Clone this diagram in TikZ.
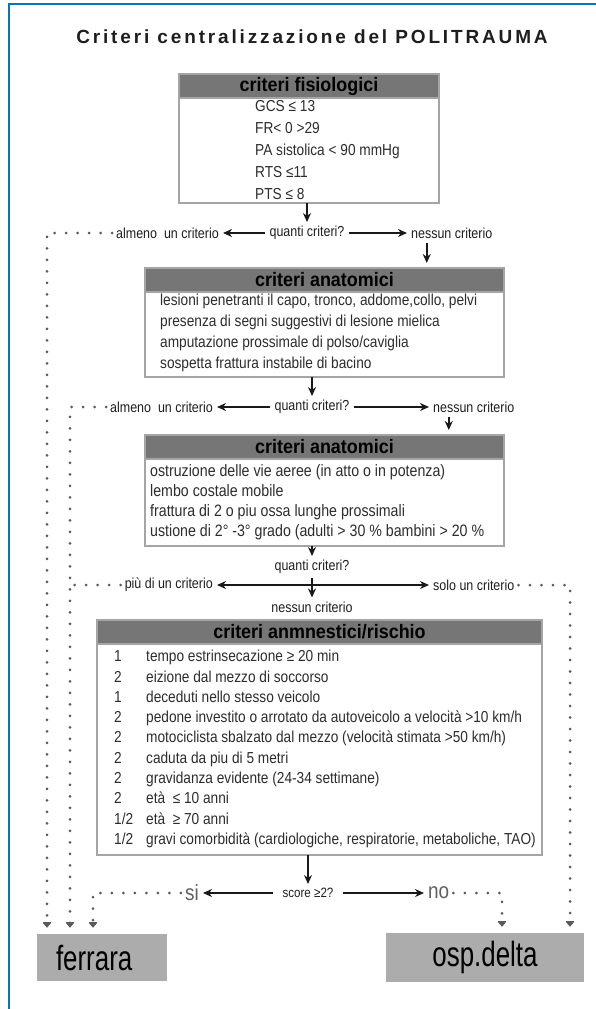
\documentclass[tikz,border=0pt]{standalone}
\usepackage{fontspec}
\setmainfont{Liberation Sans}[FakeStretch=0.86]
\newfontfamily\hdrfont{Liberation Sans}[FakeStretch=0.92]
\newfontfamily\titlefont{Liberation Sans}[LetterSpace=15]
\newfontfamily\destfont{Liberation Sans}[FakeStretch=0.74]
\usetikzlibrary{arrows.meta, positioning, calc}
\definecolor{framblue}{RGB}{10,115,185}
\definecolor{hdrgray}{RGB}{118,118,118}
\definecolor{boxgray}{RGB}{165,165,165}
\definecolor{txtgray}{RGB}{45,45,45}
\definecolor{lblgray}{RGB}{30,30,30}
\definecolor{titledark}{RGB}{30,30,30}
\definecolor{sinogray}{RGB}{95,95,95}
\definecolor{dotgray}{RGB}{90,90,90}
\definecolor{destgray}{RGB}{172,172,172}
\definecolor{arrowblk}{RGB}{25,25,25}
\newcommand{\scorecol}[1]{\makebox[32pt][l]{#1}}
\tikzset{
  hdr/.style={rectangle, draw=boxgray, fill=hdrgray, line width=1.2pt,
    outer sep=0pt, inner sep=0pt, minimum height=24pt, anchor=north west,
    font=\hdrfont\bfseries\fontsize{19.5}{19.5}\selectfont, text=black},
  bodybox/.style={rectangle, draw=boxgray, fill=white, line width=1.2pt,
    outer sep=0pt, inner sep=0pt},
  bodytxt/.style={align=left, inner sep=0pt, text=txtgray,
    font=\fontsize{15.9}{21}\selectfont},
  lbl/.style={inner sep=4pt, text=lblgray, font=\fontsize{14.5}{15}\selectfont},
  sino/.style={inner sep=4pt, text=sinogray, font=\fontsize{22}{22}\selectfont},
  dest/.style={rectangle, fill=destgray, inner sep=0pt,
    font=\destfont\fontsize{35}{35}\selectfont, text=black},
  arrow/.style={-{Stealth[length=9pt,width=8pt]}, line width=1.6pt, color=arrowblk},
  dblarrow/.style={arrow, {Stealth[length=9pt,width=8pt]}-{Stealth[length=9pt,width=8pt]}},
  dots/.style={line width=3pt, line cap=round, dash pattern=on 0pt off 11.5pt, color=dotgray},
  dotarrow/.style={dots, -{Bar[width=8pt,line width=1.2pt] Triangle[length=5pt,width=8pt]}, shorten >=6pt}
}
\begin{document}
\begin{tikzpicture}[x=1pt, y=-1pt]
  \useasboundingbox (0,0) rectangle (596,1009);
  % Frame
  \draw[framblue, line width=1.5pt] (9,1009) -- (9,4) -- (596,4);
  % Title
  \node[font=\titlefont\bfseries\fontsize{19}{19}\selectfont, text=titledark] (title) at (312,37) {Criteri centralizzazione del POLITRAUMA};

  % Physiological criteria
  \node[hdr, minimum width=260pt] (fishdr) at (179,74) {criteri fisiologici};
  \node[bodybox, minimum width=260pt, minimum height=105pt, below=0pt of fishdr] (fisbox) {};
  \node[bodytxt, font=\fontsize{15.9}{22}\selectfont, below right=2pt and 76pt of fishdr.south west] (fistxt) {GCS ≤ 13\\FR< 0 >29\\PA sistolica < 90 mmHg\\RTS ≤11\\PTS ≤ 8};

  % Row 1
  \node[lbl] (q1) at (307,233) {quanti criteri?};
  \node[lbl, anchor=east] (a1) at (223,233) {almeno\ \ un criterio};
  \node[lbl, anchor=west] (n1) at (407,233) {nessun criterio};
  \draw[arrow] (fisbox.south -| q1.north) -- (q1.north);
  \draw[arrow] (q1) -- (a1);
  \draw[arrow] (q1) -- (n1);

  % Anatomical criteria
  \node[hdr, minimum width=359pt] (anhdr) at (145,268) {criteri anatomici};
  \node[bodybox, minimum width=359pt, minimum height=85pt, below=0pt of anhdr] (anbox) {};
  \node[bodytxt, below right=2pt and 15pt of anhdr.south west] (antxt) {lesioni penetranti il capo, tronco, addome,collo, pelvi\\presenza di segni suggestivi di lesione mielica\\amputazione prossimale di polso/caviglia\\sospetta frattura instabile di bacino};
  \draw[arrow, shorten >=5pt] ([xshift=-25pt]n1.south) -- ([xshift=-25pt]n1.south |- anhdr.north);

  % Row 2
  \node[lbl] (q2) at (312,407) {quanti criteri?};
  \node[lbl, anchor=east] (a2) at (217,407) {almeno\ \ un criterio};
  \node[lbl, anchor=west] (n2) at (429,407) {nessun criterio};
  \draw[arrow] (anbox.south -| q2.north) -- (q2.north);
  \draw[arrow] (q2) -- (a2);
  \draw[arrow] (q2) -- (n2);

  % Second anatomical criteria
  \node[hdr, minimum width=359pt] (an2hdr) at (145,435) {criteri anatomici};
  \node[bodybox, minimum width=359pt, minimum height=87pt, below=0pt of an2hdr] (an2box) {};
  \node[bodytxt, font=\fontsize{16.5}{20}\selectfont, below right=5pt and 5pt of an2hdr.south west] (an2txt) {ostruzione delle vie aeree (in atto o in potenza)\\lembo costale mobile\\frattura di 2 o piu ossa lunghe prossimali\\ustione di 2° -3° grado (adulti > 30 \% bambini > 20 \%};
  \draw[arrow, shorten >=5pt] ([xshift=-25pt]n2.south) -- ([xshift=-25pt]n2.south |- an2hdr.north);

  % Row 3
  \node[lbl] (q3) at (312,567) {quanti criteri?};
  \node[lbl, anchor=east] (p3) at (217,585) {più di un criterio};
  \node[lbl, anchor=west] (s3) at (429,585) {solo un criterio};
  \node[lbl] (n3) at (312,607) {nessun criterio};
  \draw[arrow] (an2box.south -| q3.north) -- (q3.north);
  \draw[dblarrow] (p3) -- (s3);
  \draw[arrow] (q3) -- (n3);

  % Anamnestic / risk criteria
  \node[hdr, minimum width=445pt] (anmhdr) at (97,620) {criteri anmnestici/rischio};
  \node[bodybox, minimum width=445pt, minimum height=211pt, below=0pt of anmhdr] (anmbox) {};
  \node[bodytxt, font=\fontsize{15.9}{20.3}\selectfont, below right=6pt and 17pt of anmhdr.south west] (anmtxt) {%
    \scorecol{1}tempo estrinsecazione ≥ 20 min\\
    \scorecol{2}eizione dal mezzo di soccorso\\
    \scorecol{1}deceduti nello stesso veicolo\\
    \scorecol{2}pedone investito o arrotato da autoveicolo a velocità >10 km/h\\
    \scorecol{2}motociclista sbalzato dal mezzo (velocità stimata >50 km/h)\\
    \scorecol{2}caduta da piu di 5 metri\\
    \scorecol{2}gravidanza evidente (24-34 settimane)\\
    \scorecol{2}età\ \ ≤ 10 anni\\
    \scorecol{1/2}età\ \ ≥ 70 anni\\
    \scorecol{1/2}gravi comorbidità (cardiologiche, respiratorie, metaboliche, TAO)};

  % Row 4
  \node[lbl, font=\fontsize{13.5}{14}\selectfont, inner xsep=9pt] (sc4) at (308,893) {score ≥2?};
  \node[sino, anchor=east] (si4) at (203,893) {si};
  \node[sino, anchor=west] (no4) at (424,893) {no};
  \draw[arrow] (anmbox.south -| sc4.north) -- (sc4.north);
  \draw[arrow] (sc4) -- (si4);
  \draw[arrow] (sc4) -- (no4);

  % Destinations
  \node[dest, minimum width=130pt, minimum height=47pt, text width=92pt, inner xsep=19pt, align=left] (ferrara) at (102,957.5) {ferrara};
  \node[dest, minimum width=198pt, minimum height=49pt] (ospdelta) at (485,957.5) {osp.delta};

  % Dotted routes
  \coordinate (lc1) at (47,233);
  \coordinate (lc2) at (70,407);
  \coordinate (lc3) at (93,893);
  \coordinate (rc1) at (570,585);
  \coordinate (rc2) at (502,893);
  \draw[dotarrow] (a1.west) -- (lc1) -- (lc1 |- ferrara.north);
  \draw[dotarrow] (a2.west) -- (lc2) -- (lc2 |- ferrara.north);
  \draw[dots] (p3.west) -- (p3.west -| lc2);
  \draw[dotarrow] (si4.west) -- (lc3) -- (lc3 |- ferrara.north);
  \draw[dotarrow] (s3.east) -- (rc1) -- (rc1 |- ospdelta.north);
  \draw[dotarrow] (no4.east) -- (rc2) -- (rc2 |- ospdelta.north);
\end{tikzpicture}
\end{document}
